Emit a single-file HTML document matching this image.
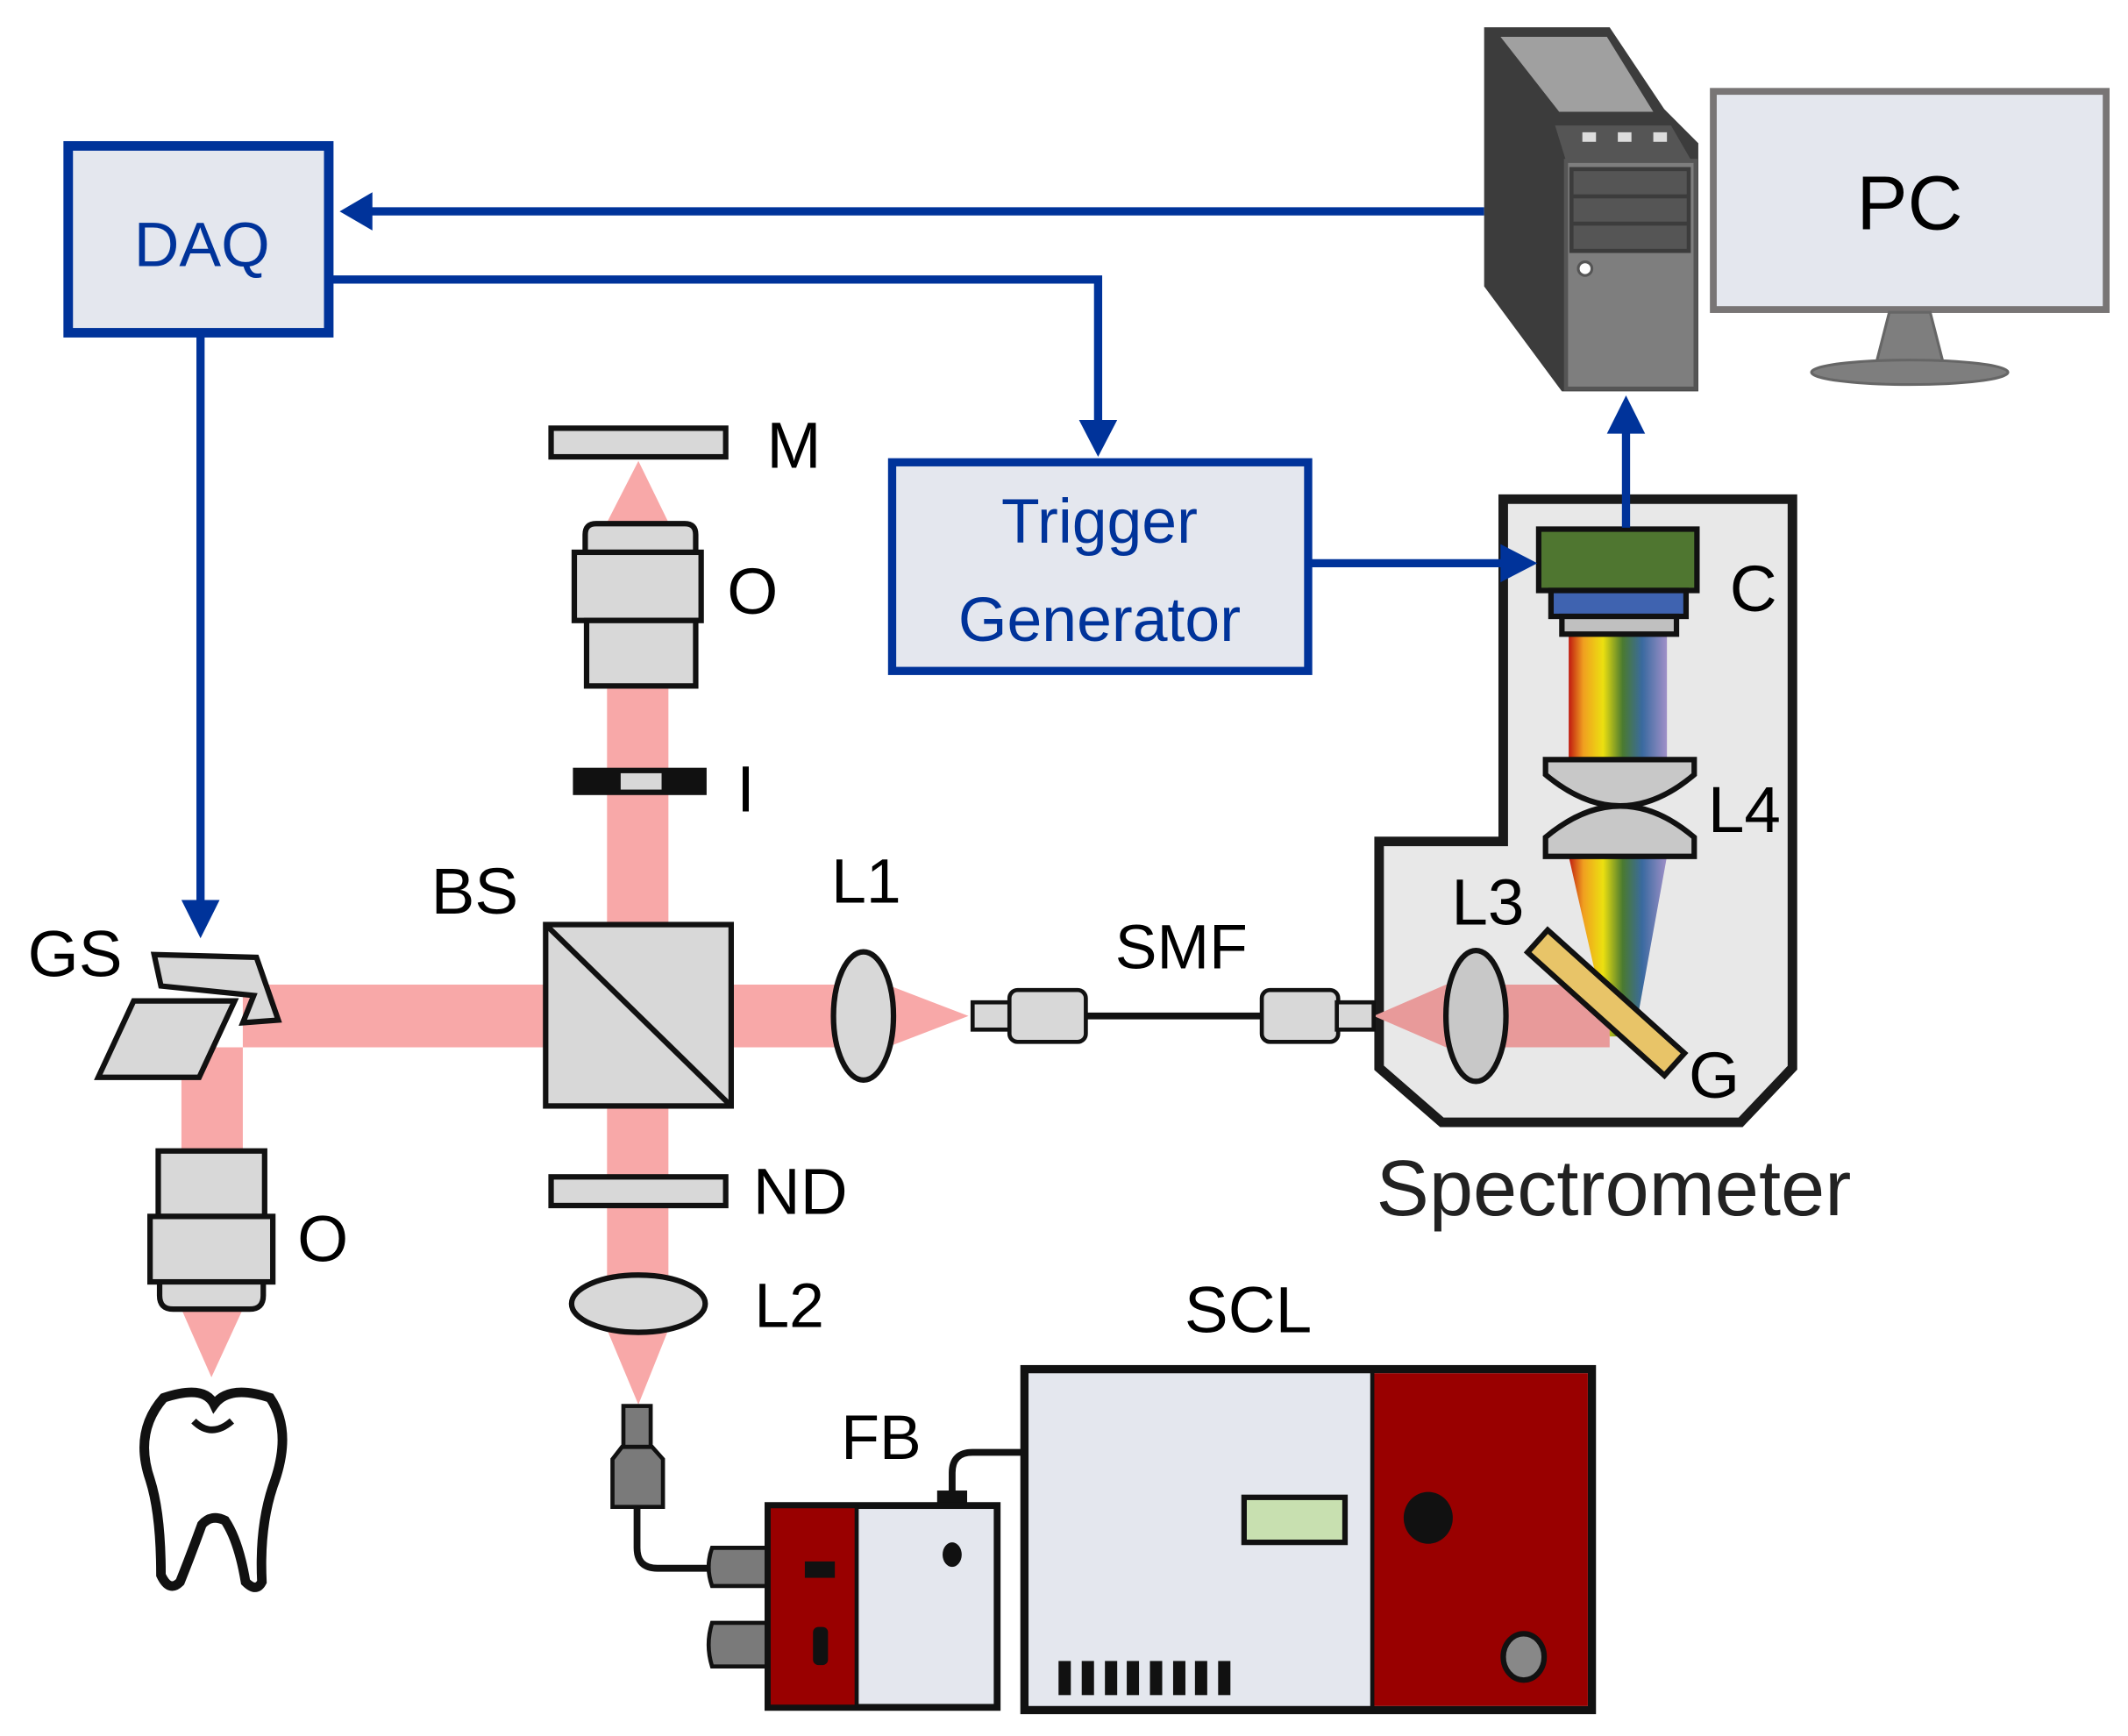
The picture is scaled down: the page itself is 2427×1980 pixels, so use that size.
<!DOCTYPE html>
<html><head><meta charset="utf-8"><style>
html,body{margin:0;padding:0;background:#fff;}
svg{display:block;}
text{font-family:"Liberation Sans",sans-serif;}
</style></head><body>
<svg width="2427" height="1980" viewBox="0 0 1560 1273" preserveAspectRatio="none" xmlns="http://www.w3.org/2000/svg">
<defs>
<linearGradient id="rb" x1="0" x2="1" y1="0" y2="0">
<stop offset="0" stop-color="#c01a10"/><stop offset="0.15" stop-color="#f0a020"/><stop offset="0.35" stop-color="#ece010"/><stop offset="0.55" stop-color="#4a7a30"/><stop offset="0.75" stop-color="#3a6aa0"/><stop offset="1" stop-color="#a090c8"/>
</linearGradient>
</defs>
<rect width="1560" height="1273" fill="#fff"/>

<!-- beams -->
<g fill="#f8a8a8">
<rect x="178" y="722" width="222" height="46"/>
<rect x="537" y="722" width="75" height="46"/>
<polygon points="650,722 710,745 650,768"/>
<rect x="445" y="505" width="45" height="172"/>
<rect x="445" y="812" width="45" height="130"/>
<polygon points="445,975 490,975 468,1030"/>
<polygon points="445,383 490,383 468,338"/>
<rect x="133" y="768" width="45" height="76"/>
<polygon points="133,960 178,960 155,1010"/>
</g>

<!-- blue connectors -->
<g stroke="#00339a" stroke-width="6" fill="none">
<line x1="1088" y1="155" x2="270" y2="155"/>
<polyline points="243,205 805,205 805,310"/>
<line x1="147" y1="246" x2="147" y2="662"/>
</g>
<g fill="#00339a">
<polygon points="249,155 273,141 273,169"/>
<polygon points="805,335 791,308 819,308"/>
<polygon points="147,688 133,660 161,660"/>
</g>

<!-- DAQ -->
<rect x="50" y="107" width="191" height="137" fill="#e4e7ee" stroke="#00339a" stroke-width="7"/>
<text x="148" y="195" font-size="46" fill="#00339a" text-anchor="middle">DAQ</text>
<!-- Trigger -->
<rect x="654" y="339" width="305" height="153" fill="#e4e7ee" stroke="#00339a" stroke-width="6"/>
<text x="806" y="398" font-size="46" fill="#00339a" text-anchor="middle">Trigger</text>
<text x="806" y="470" font-size="46" fill="#00339a" text-anchor="middle">Generator</text>

<!-- Computer tower -->
<polygon points="1088,20 1180,20 1220,80 1245,105 1245,287 1145,287 1088,210" fill="#3c3c3c"/>
<polygon points="1100,27 1178,27 1212,82 1143,82" fill="#a0a0a0"/>
<polygon points="1140,92 1225,92 1240,118 1148,118" fill="#555"/>
<rect x="1160" y="97" width="10" height="7" fill="#ddd"/><rect x="1186" y="97" width="10" height="7" fill="#ddd"/><rect x="1212" y="97" width="10" height="7" fill="#ddd"/>
<rect x="1148" y="118" width="95" height="167" fill="#7e7e7e" stroke="#555" stroke-width="3"/>
<rect x="1152" y="124" width="86" height="60" fill="#555" stroke="#3c3c3c" stroke-width="3"/>
<line x1="1152" y1="144" x2="1238" y2="144" stroke="#3c3c3c" stroke-width="3"/>
<line x1="1152" y1="164" x2="1238" y2="164" stroke="#3c3c3c" stroke-width="3"/>
<circle cx="1162" cy="197" r="5" fill="#fff" stroke="#555" stroke-width="2"/>
<!-- Monitor -->
<rect x="1256" y="67" width="288" height="160" fill="#e4e7ee" stroke="#787575" stroke-width="5"/>
<text x="1400" y="168" font-size="56" fill="#000" text-anchor="middle">PC</text>
<polygon points="1385,229 1415,229 1425,268 1375,268" fill="#7e7e7e" stroke="#666" stroke-width="2"/>
<ellipse cx="1400" cy="273" rx="72" ry="9" fill="#7e7e7e" stroke="#666" stroke-width="2"/>

<!-- Spectrometer -->
<polygon points="1102,366 1314,366 1314,783 1276,823 1057,823 1011,783 1011,617 1102,617" fill="#e8e8e8" stroke="#1a1a1a" stroke-width="7"/>
<rect x="1150" y="465" width="72" height="92" fill="url(#rb)"/>
<polygon points="1150,628 1222,628 1198,760 1180,760" fill="url(#rb)"/>
<polygon points="1007,745 1060,722 1180,722 1180,768 1060,768" fill="#e89a9a"/>
<rect x="1128" y="388" width="116" height="45" fill="#4f7630" stroke="#111" stroke-width="4"/>
<rect x="1137" y="433" width="99" height="19" fill="#3f63b0" stroke="#111" stroke-width="4"/>
<rect x="1145" y="452" width="84" height="13" fill="#c0c0c0" stroke="#111" stroke-width="4"/>
<path d="M1133,557 H1242 V568 Q1188,614 1133,568 Z" fill="#c8c8c8" stroke="#111" stroke-width="4"/>
<path d="M1133,628 H1242 V614 Q1188,568 1133,614 Z" fill="#c8c8c8" stroke="#111" stroke-width="4"/>
<ellipse cx="1082" cy="745" rx="22" ry="48" fill="#c8c8c8" stroke="#111" stroke-width="4"/>
<rect x="1110" y="724" width="135" height="22" fill="#e8c468" stroke="#111" stroke-width="4" transform="rotate(42 1177 735)"/>
<text x="1268" y="448" font-size="48">C</text>
<text x="1252" y="610" font-size="48">L4</text>
<text x="1064" y="678" font-size="48">L3</text>
<text x="1238" y="805" font-size="48">G</text>
<text x="1183" y="891" font-size="58" fill="#222" text-anchor="middle">Spectrometer</text>

<!-- connectors over spectrometer -->
<g stroke="#00339a" stroke-width="6" fill="none">
<line x1="960" y1="413" x2="1102" y2="413"/>
<line x1="1192" y1="387" x2="1192" y2="315"/>
</g>
<g fill="#00339a">
<polygon points="1127,413 1100,399 1100,427"/>
<polygon points="1192,290 1178,318 1206,318"/>
</g>

<!-- SMF fiber -->
<line x1="795" y1="745" x2="925" y2="745" stroke="#111" stroke-width="5"/>
<rect x="713" y="735" width="28" height="20" fill="#d8d8d8" stroke="#111" stroke-width="3"/>
<rect x="740" y="726" width="56" height="38" rx="6" fill="#d8d8d8" stroke="#111" stroke-width="3"/>
<rect x="925" y="726" width="56" height="38" rx="6" fill="#d8d8d8" stroke="#111" stroke-width="3"/>
<rect x="980" y="735" width="27" height="20" fill="#d8d8d8" stroke="#111" stroke-width="3"/>
<text x="866" y="710" font-size="46" text-anchor="middle">SMF</text>

<!-- L1 -->
<ellipse cx="633" cy="745" rx="22" ry="47" fill="#d8d8d8" stroke="#111" stroke-width="4"/>
<text x="635" y="662" font-size="46" text-anchor="middle">L1</text>

<!-- BS -->
<rect x="400" y="678" width="136" height="133" fill="#d8d8d8" stroke="#111" stroke-width="4"/>
<line x1="400" y1="678" x2="536" y2="811" stroke="#111" stroke-width="4"/>
<text x="348" y="670" font-size="48" text-anchor="middle">BS</text>

<!-- M -->
<rect x="404" y="314" width="128" height="21" fill="#d8d8d8" stroke="#111" stroke-width="4"/>
<text x="562" y="343" font-size="48">M</text>
<!-- O top -->
<path d="M429,405 V392 Q429,384 437,384 H502 Q510,384 510,392 V405 Z" fill="#d8d8d8" stroke="#111" stroke-width="4"/>
<rect x="421" y="405" width="93" height="50" fill="#d8d8d8" stroke="#111" stroke-width="4"/>
<rect x="430" y="455" width="80" height="48" fill="#d8d8d8" stroke="#111" stroke-width="4"/>
<text x="533" y="450" font-size="48">O</text>
<!-- I -->
<rect x="420" y="563" width="98" height="20" fill="#111"/>
<rect x="455" y="567" width="30" height="12" fill="#d8d8d8"/>
<text x="540" y="595" font-size="48">I</text>
<!-- ND -->
<rect x="404" y="863" width="128" height="21" fill="#d8d8d8" stroke="#111" stroke-width="4"/>
<text x="552" y="890" font-size="48">ND</text>
<!-- L2 -->
<ellipse cx="468" cy="956" rx="49" ry="21" fill="#d8d8d8" stroke="#111" stroke-width="4"/>
<text x="553" y="973" font-size="46">L2</text>
<!-- fiber connector vertical -->
<path d="M467,1100 V1135 Q467,1150 482,1150 H522" fill="none" stroke="#111" stroke-width="5"/>
<rect x="457" y="1031" width="20" height="30" fill="#7a7a7a" stroke="#111" stroke-width="3"/>
<path d="M449,1105 V1070 L456,1061 H478 L486,1070 V1105 Z" fill="#7a7a7a" stroke="#111" stroke-width="3"/>

<!-- GS -->
<polygon points="113,700 188,702 204,748 178,750 186,730 118,723" fill="#d8d8d8" stroke="#111" stroke-width="4"/>
<polygon points="98,734 172,734 146,790 72,790" fill="#d8d8d8" stroke="#111" stroke-width="4"/>
<text x="55" y="716" font-size="48" text-anchor="middle">GS</text>
<!-- O lower -->
<rect x="116" y="844" width="78" height="48" fill="#d8d8d8" stroke="#111" stroke-width="4"/>
<rect x="110" y="892" width="90" height="48" fill="#d8d8d8" stroke="#111" stroke-width="4"/>
<path d="M117,940 H193 V950 Q193,960 183,960 H127 Q117,960 117,950 Z" fill="#d8d8d8" stroke="#111" stroke-width="4"/>
<text x="218" y="925" font-size="48">O</text>
<!-- tooth -->
<path d="M120,1025 Q150,1015 157,1030 Q168,1015 198,1025 Q215,1050 200,1090 Q190,1120 192,1160 Q188,1168 180,1160 Q175,1130 165,1115 Q155,1110 148,1118 Q140,1140 132,1160 Q124,1168 118,1155 Q118,1110 110,1085 Q98,1050 120,1025 Z" fill="#fff" stroke="#111" stroke-width="7"/>
<path d="M142,1042 Q155,1055 170,1042" fill="none" stroke="#111" stroke-width="5"/>

<!-- FB -->
<path d="M698,1100 V1080 Q698,1065 713,1065 H752" fill="none" stroke="#111" stroke-width="5"/>
<rect x="687" y="1093" width="22" height="12" fill="#111"/>
<path d="M522,1135 H563 V1163 H522 Q517,1149 522,1135 Z" fill="#7a7a7a" stroke="#111" stroke-width="3"/>
<path d="M522,1190 H563 V1222 H522 Q517,1206 522,1190 Z" fill="#7a7a7a" stroke="#111" stroke-width="3"/>
<rect x="563" y="1104" width="168" height="148" fill="#e4e7ee" stroke="#111" stroke-width="5"/>
<rect x="565" y="1106" width="62" height="144" fill="#990000"/>
<line x1="628" y1="1104" x2="628" y2="1252" stroke="#111" stroke-width="3"/>
<rect x="590" y="1145" width="22" height="12" fill="#111"/>
<rect x="596" y="1193" width="11" height="28" rx="4" fill="#111"/>
<ellipse cx="698" cy="1140" rx="7" ry="9" fill="#111"/>
<text x="646" y="1070" font-size="46" text-anchor="middle">FB</text>
<!-- SCL -->
<rect x="751" y="1004" width="416" height="250" fill="#e4e7ee" stroke="#111" stroke-width="6"/>
<rect x="1006" y="1007" width="158" height="244" fill="#990000"/>
<line x1="1006" y1="1004" x2="1006" y2="1254" stroke="#111" stroke-width="3"/>
<rect x="912" y="1098" width="74" height="33" fill="#c8e0b0" stroke="#111" stroke-width="4"/>
<ellipse cx="1047" cy="1113" rx="18" ry="19" fill="#111"/>
<ellipse cx="1117" cy="1215" rx="15" ry="17" fill="#888" stroke="#111" stroke-width="4"/>
<g fill="#111">
<rect x="776" y="1218" width="9" height="25"/><rect x="793" y="1218" width="9" height="25"/><rect x="810" y="1218" width="9" height="25"/><rect x="826" y="1218" width="9" height="25"/><rect x="843" y="1218" width="9" height="25"/><rect x="860" y="1218" width="9" height="25"/><rect x="876" y="1218" width="9" height="25"/><rect x="893" y="1218" width="9" height="25"/>
</g>
<text x="915" y="977" font-size="48" text-anchor="middle">SCL</text>
</svg>
</body></html>
